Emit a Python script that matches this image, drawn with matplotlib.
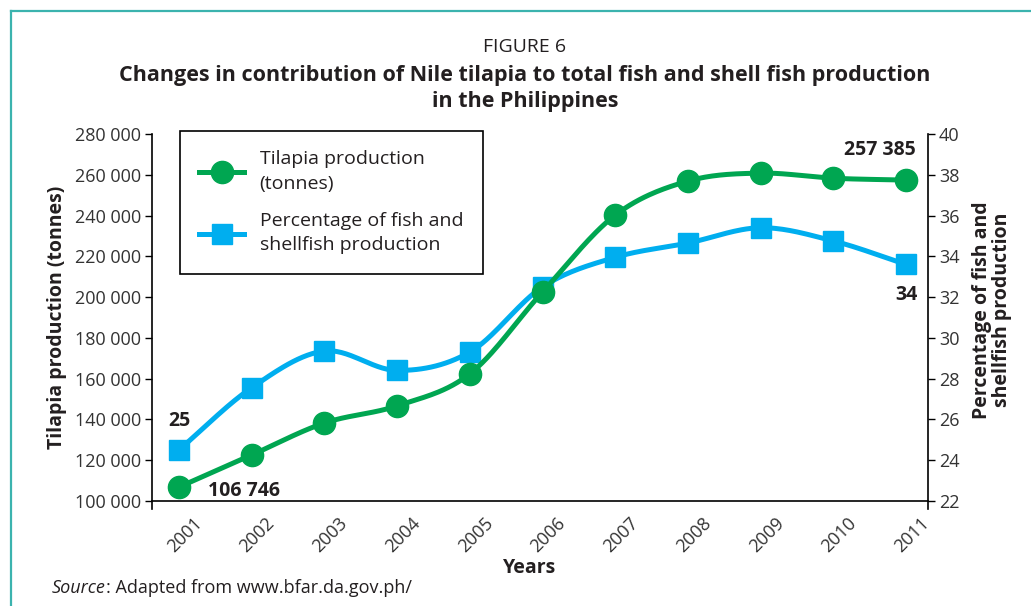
import numpy as np
import matplotlib
matplotlib.use("Agg")
from matplotlib import pyplot as plt
from matplotlib.lines import Line2D
from matplotlib.ticker import FuncFormatter
import matplotlib.transforms as mtransforms

# data
years = [2001, 2002, 2003, 2004, 2005, 2006, 2007, 2008, 2009, 2010, 2011]
tilapia = [106746, 122500, 138200, 146600, 162300, 202500, 240200, 256900, 260800, 258300, 257385]
percent = [24.5, 27.55, 29.35, 28.4, 29.3, 32.5, 33.95, 34.65, 35.4, 34.75, 33.6]
tilapia_ticks = [100000, 120000, 140000, 160000, 180000, 200000, 220000, 240000, 260000, 280000]
percent_ticks = [22, 24, 26, 28, 30, 32, 34, 36, 38, 40]

GREEN = "#00a651"
BLUE = "#00aeef"
TXT = "#231f20"

plt.rcParams['font.family'] = ['Open Sans', 'DejaVu Sans']


def smooth(x, y, n=30):
    # catmull-rom style hermite spline, like a spreadsheet "smoothed line"
    x = np.asarray(x, float)
    y = np.asarray(y, float)
    m = np.zeros_like(y)
    m[1:-1] = (y[2:] - y[:-2]) / (x[2:] - x[:-2])
    m[0] = (y[1] - y[0]) / (x[1] - x[0])
    m[-1] = (y[-1] - y[-2]) / (x[-1] - x[-2])
    xs, ys = [], []
    for i in range(len(x) - 1):
        h = x[i + 1] - x[i]
        t = np.linspace(0, 1, n, endpoint=False)
        h00 = 2 * t**3 - 3 * t**2 + 1
        h10 = t**3 - 2 * t**2 + t
        h01 = -2 * t**3 + 3 * t**2
        h11 = t**3 - t**2
        xs.append(x[i] + t * h)
        ys.append(h00 * y[i] + h10 * h * m[i] + h01 * y[i + 1] + h11 * h * m[i + 1])
    xs.append([x[-1]])
    ys.append([y[-1]])
    return np.concatenate(xs), np.concatenate(ys)


W, H = 1031, 606
fig = plt.figure(figsize=(W / 100, H / 100), dpi=100)

left, right, top, bottom = 152, 928, 134, 509
ax = fig.add_axes([left / W, 1 - bottom / H, (right - left) / W, (bottom - top) / H])
ax2 = ax.twinx()

xlim = (2000.63, 2011.30)
ax.set_xlim(*xlim)
ax.set_ylim(96000, 280000)
ax2.set_ylim(21.6, 40)

# lines
sx, sy = smooth(years, percent)
ax2.plot(sx, sy, color=BLUE, lw=3.6, solid_capstyle='round', zorder=2)
ax2.plot(years, percent, 's', color=BLUE, ms=14.5, zorder=3)
gx, gy = smooth(years, tilapia)
ax.plot(gx, gy, color=GREEN, lw=3.6, solid_capstyle='round', zorder=2)
ax.plot(years, tilapia, 'o', color=GREEN, ms=16, zorder=3)

ax.set_zorder(ax2.get_zorder() + 1)
ax.patch.set_visible(False)

# spines
for a in (ax, ax2):
    a.spines['top'].set_visible(False)
    a.spines['bottom'].set_visible(False)
ax.spines['right'].set_visible(False)
ax2.spines['left'].set_visible(False)
ax.spines['left'].set_linewidth(1.2)
ax2.spines['right'].set_linewidth(1.2)
ax.plot(xlim, [100000, 100000], color='black', lw=1.2, clip_on=False, zorder=1)

# ticks
ax.set_yticks(tilapia_ticks)
ax.yaxis.set_major_formatter(FuncFormatter(lambda v, p: f"{v:,.0f}".replace(',', ' ')))
ax2.set_yticks(percent_ticks)
ax.tick_params(axis='y', direction='out', length=5, width=1, labelsize=13, labelcolor='#333333', pad=3)
ax2.tick_params(axis='y', direction='out', length=5, width=1, labelsize=13, labelcolor='#333333', pad=3)
ax.set_xticks(years)
ax.set_xticklabels([str(y) for y in years], rotation=45, ha='right', va='top',
                   rotation_mode='anchor', fontsize=13, color='#333333')
ax.tick_params(axis='x', length=0, pad=0)
offset = mtransforms.ScaledTranslation(14 / 100, -5 / 100, fig.dpi_scale_trans)
for lab in ax.get_xticklabels():
    lab.set_transform(lab.get_transform() + offset)

# value labels
bold = dict(fontsize=14, fontweight='bold', color=TXT, ha='center', va='center')
ax2.annotate("25", (years[0], percent[0]), xytext=(0, 21), textcoords='offset points', **bold)
ax.annotate("106 746", (years[0], tilapia[0]), xytext=(47, -3), textcoords='offset points', **bold)
ax.annotate("257 385", (years[-1], tilapia[-1]), xytext=(-19, 22), textcoords='offset points', **bold)
ax2.annotate("34", (years[-1], percent[-1]), xytext=(0, -22), textcoords='offset points', **bold)

# legend
handles = [
    Line2D([], [], color=GREEN, lw=3.6, marker='o', ms=16),
    Line2D([], [], color=BLUE, lw=3.6, marker='s', ms=14.5),
]
leg = fig.legend(handles, ["Tilapia production\n(tonnes)", "Percentage of fish and\nshellfish production"],
                 loc='upper left', bbox_to_anchor=(180 / W, 1 - 131 / H), bbox_transform=fig.transFigure,
                 borderaxespad=0, fancybox=False, edgecolor='black', framealpha=1,
                 fontsize=14, handlelength=2.3, handletextpad=0.8, labelspacing=1.0,
                 borderpad=1.0)
leg.get_frame().set_linewidth(1.2)
for t in leg.get_texts():
    t.set_color(TXT)
    t.set_linespacing(1.45)

# axis labels and titles
fig.text(57 / W, 1 - 317 / H, "Tilapia production (tonnes)", rotation=90, ha='center', va='center',
         fontsize=14, fontweight='bold', color=TXT)
fig.text(992 / W, 1 - 310 / H, "Percentage of fish and\nshellfish production", rotation=90,
         ha='center', va='center', fontsize=14, fontweight='bold', color=TXT, linespacing=1.0)
fig.text(530 / W, 1 - 568 / H, "Years", ha='center', va='center', fontsize=14, fontweight='bold', color=TXT)
fig.text(525 / W, 1 - 47 / H, "FIGURE 6", ha='center', va='center', fontsize=14, color=TXT)
fig.text(525 / W, 1 - 75 / H, "Changes in contribution of Nile tilapia to total fish and shell fish production",
         ha='center', va='center', fontsize=15.5, fontweight='bold', color=TXT)
fig.text(525 / W, 1 - 101 / H, "in the Philippines", ha='center', va='center', fontsize=15.5,
         fontweight='bold', color=TXT)
src = fig.text(52 / W, 1 - 588 / H, "Source", ha='left', va='center', fontsize=13, style='italic', color=TXT)
fig.canvas.draw()
bb = src.get_window_extent()
fig.text(bb.x1 / W, 1 - 588 / H, ": Adapted from www.bfar.da.gov.ph/", ha='left', va='center',
         fontsize=13, color=TXT)

# teal frame (left and top only visible)
fig.add_artist(Line2D([11 / W, 11 / W], [0, 1 - 11 / H], color='#3bb3ae', lw=1.6, transform=fig.transFigure))
fig.add_artist(Line2D([11 / W, 1], [1 - 11 / H, 1 - 11 / H], color='#3bb3ae', lw=1.6, transform=fig.transFigure))

fig.savefig("out.png", dpi=100)
